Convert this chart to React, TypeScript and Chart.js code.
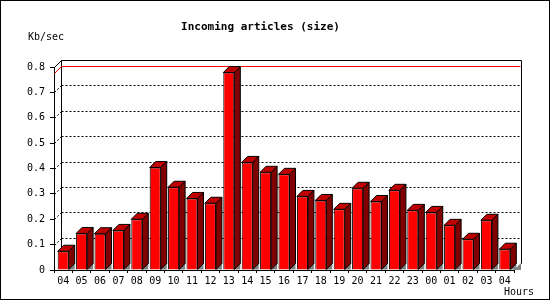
import React, { useEffect, useRef } from "react";
import { Chart, registerables } from "chart.js";

Chart.register(...registerables);

const hours = ["04","05","06","07","08","09","10","11","12","13","14","15","16","17","18","19","20","21","22","23","00","01","02","03","04"];
const kbPerSec = [0.074,0.144,0.143,0.156,0.2,0.404,0.326,0.282,0.263,0.778,0.424,0.385,0.377,0.29,0.274,0.239,0.322,0.27,0.314,0.235,0.227,0.176,0.121,0.196,0.082];
const yTicks = [0,0.1,0.2,0.3,0.4,0.5,0.6,0.7,0.8];
const titleText = "Incoming articles (size)";
const yUnit = "Kb/sec";
const xUnit = "Hours";

const MONO = "'DejaVu Sans Mono', 'Liberation Mono', monospace";
const WALL = 7;
const BAR_DEPTH = 6;

const box3d = {
  id: "box3d",
  beforeDatasetsDraw(chart: any) {
    const { ctx } = chart;
    const y = chart.scales.y;
    const x = chart.scales.x;
    const n = hours.length;
    const cw = x.getPixelForValue(1) - x.getPixelForValue(0);
    const L = x.getPixelForValue(0) - cw / 2;
    const R = x.getPixelForValue(n - 1) + cw / 2;
    const T = y.getPixelForValue(yTicks[yTicks.length - 1]);
    const B = y.getPixelForValue(yTicks[0]);
    const a = (v: number) => Math.round(v) + 0.5;
    ctx.save();
    ctx.lineWidth = 1;
    ctx.strokeStyle = "#000";
    ctx.setLineDash([2, 2]);
    yTicks.forEach((v, i) => {
      if (i === 0 || i === yTicks.length - 1) return;
      const py = y.getPixelForValue(v);
      ctx.beginPath();
      ctx.moveTo(a(L + WALL), a(py - WALL));
      ctx.lineTo(a(R + WALL), a(py - WALL));
      ctx.stroke();
      ctx.beginPath();
      ctx.moveTo(a(L), a(py));
      ctx.lineTo(a(L + WALL), a(py - WALL));
      ctx.stroke();
    });
    ctx.setLineDash([]);
    ctx.beginPath();
    ctx.moveTo(a(L), a(T));
    ctx.lineTo(a(L + WALL), a(T - WALL));
    ctx.lineTo(a(R + WALL), a(T - WALL));
    ctx.lineTo(a(R + WALL), a(B - WALL));
    ctx.lineTo(a(R), a(B));
    ctx.moveTo(a(L + WALL), a(T - WALL));
    ctx.lineTo(a(L + WALL), a(B - WALL));
    ctx.stroke();
    const maxV = Math.max(...kbPerSec);
    const pm = y.getPixelForValue(maxV);
    ctx.strokeStyle = "#ff0000";
    ctx.beginPath();
    ctx.moveTo(a(L), a(pm));
    ctx.lineTo(a(L + WALL), a(pm - WALL));
    ctx.lineTo(a(R + WALL - 1), a(pm - WALL));
    ctx.stroke();
    ctx.fillStyle = "#808080";
    ctx.beginPath();
    ctx.moveTo(R, B);
    ctx.lineTo(R + WALL, B - WALL);
    ctx.lineTo(R + WALL, B);
    ctx.closePath();
    ctx.fill();
    const meta = chart.getDatasetMeta(0);
    meta.data.forEach((el: any) => {
      const p = el.getProps(["x", "y", "base", "width"], true);
      const xl = p.x - p.width / 2;
      const xr = p.x + p.width / 2;
      const yt = p.y;
      const yb = p.base;
      const d = BAR_DEPTH;
      ctx.fillStyle = "#808080";
      ctx.beginPath();
      ctx.moveTo(xr, yb);
      ctx.lineTo(xr + d, yb - d);
      ctx.lineTo(xr + d, yb);
      ctx.closePath();
      ctx.fill();
      ctx.strokeStyle = "#000";
      ctx.fillStyle = "#800000";
      ctx.beginPath();
      ctx.moveTo(xr, yt);
      ctx.lineTo(xr + d, yt - d);
      ctx.lineTo(xr + d, yb - d);
      ctx.lineTo(xr, yb);
      ctx.closePath();
      ctx.fill();
      ctx.stroke();
      ctx.fillStyle = "#c00000";
      ctx.beginPath();
      ctx.moveTo(xl, yt);
      ctx.lineTo(xl + d, yt - d);
      ctx.lineTo(xr + d, yt - d);
      ctx.lineTo(xr, yt);
      ctx.closePath();
      ctx.fill();
      ctx.stroke();
    });
    ctx.restore();
  },
  afterDraw(chart: any) {
    const { ctx, width, height } = chart;
    ctx.save();
    ctx.strokeStyle = "#000";
    ctx.lineWidth = 1;
    ctx.strokeRect(0.5, 0.5, width - 1, height - 1);
    ctx.fillStyle = "#000";
    ctx.font = `10px ${MONO}`;
    ctx.textBaseline = "middle";
    ctx.textAlign = "left";
    ctx.fillText(yUnit, 28, 37);
    ctx.fillText(xUnit, 504, 292);
    ctx.restore();
  },
};

export default function App() {
  const ref = useRef<HTMLCanvasElement>(null);
  useEffect(() => {
    if (!ref.current) return;
    const chart = new Chart(ref.current, {
      type: "bar",
      data: {
        labels: hours,
        datasets: [
          {
            data: kbPerSec,
            backgroundColor: "#ff0000",
            borderColor: "#000000",
            borderWidth: 1,
            barPercentage: 0.6,
            categoryPercentage: 1,
          },
        ],
      },
      options: {
        animation: false,
        responsive: false,
        devicePixelRatio: 1,
        layout: { padding: { left: 0, right: 29, top: 0, bottom: 0 } },
        plugins: {
          legend: { display: false },
          tooltip: { enabled: false },
          title: {
            display: true,
            text: titleText,
            color: "#000",
            font: { family: MONO, size: 11, weight: "bold" },
            padding: { top: 21, bottom: 32.8 },
          },
        },
        scales: {
          x: {
            grid: { drawOnChartArea: false, drawTicks: true, tickLength: 3, color: "#000", offset: true },
            border: { display: true, color: "#000" },
            ticks: { color: "#000", font: { family: MONO, size: 10 }, padding: 2, maxRotation: 0, autoSkip: false },
            afterFit: (s: any) => { s.height = 30; },
          },
          y: {
            min: 0,
            max: 0.8,
            afterBuildTicks: (s: any) => { s.ticks = yTicks.map((v) => ({ value: v })); },
            grid: { drawOnChartArea: false, drawTicks: true, tickLength: 4, color: "#000" },
            border: { display: true, color: "#000" },
            ticks: { color: "#000", font: { family: MONO, size: 10 }, padding: 5, callback: (v: any) => String(v) },
            afterFit: (s: any) => { s.width = 54; },
          },
          wall: {
            type: "linear",
            position: "right",
            display: true,
            grid: { display: false, drawTicks: false },
            border: { display: false },
            ticks: { display: false },
            afterFit: (s: any) => { s.width = 7; },
          },
        },
      },
      plugins: [box3d],
    });
    return () => chart.destroy();
  }, []);
  return (
    <div style={{ position: "fixed", left: 0, top: 0, width: 550, height: 300, background: "#fff" }}>
      <canvas ref={ref} width={550} height={300} />
    </div>
  );
}
